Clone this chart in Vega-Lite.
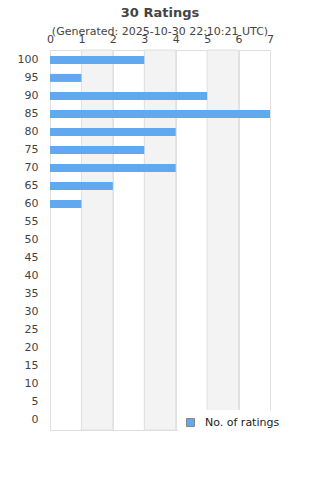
{
  "$schema": "https://vega.github.io/schema/vega-lite/v6.json",
  "autosize": "none",
  "padding": {"left": 50, "top": 50, "right": 50, "bottom": 50},
  "width": 220,
  "height": 380,
  "background": "white",
  "config": {
    "font": "DejaVu Sans",
    "view": {"stroke": "#dddddd"},
    "axisX": {
      "orient": "top",
      "title": null,
      "ticks": false,
      "domain": false,
      "values": [0, 1, 2, 3, 4, 5, 6, 7],
      "labelFontSize": 11,
      "labelColor": "#444444",
      "labelPadding": 6,
      "labelOverlap": false,
      "gridColor": "#e0e0e0",
      "labelFlush": false
    }
  },
  "title": {
    "text": "30 Ratings",
    "subtitle": "(Generated: 2025-10-30 22:10:21 UTC)",
    "fontSize": 13,
    "fontWeight": "bold",
    "color": "#444444",
    "subtitleFontSize": 11,
    "subtitleColor": "#444444",
    "subtitlePadding": 6,
    "anchor": "middle",
    "offset": -4
  },
  "datasets": {
    "bands": [
      {"from": 1, "to": 2},
      {"from": 3, "to": 4},
      {"from": 5, "to": 6}
    ],
    "ratings": [
      {"rating": "100", "count": 3},
      {"rating": "95", "count": 1},
      {"rating": "90", "count": 5},
      {"rating": "85", "count": 7},
      {"rating": "80", "count": 4},
      {"rating": "75", "count": 3},
      {"rating": "70", "count": 4},
      {"rating": "65", "count": 2},
      {"rating": "60", "count": 1},
      {"rating": "55", "count": 0},
      {"rating": "50", "count": 0},
      {"rating": "45", "count": 0},
      {"rating": "40", "count": 0},
      {"rating": "35", "count": 0},
      {"rating": "30", "count": 0},
      {"rating": "25", "count": 0},
      {"rating": "20", "count": 0},
      {"rating": "15", "count": 0},
      {"rating": "10", "count": 0},
      {"rating": "5", "count": 0},
      {"rating": "0", "count": 0}
    ]
  },
  "layer": [
    {
      "data": {"name": "bands"},
      "mark": {"type": "rect", "fill": "#f3f3f3", "stroke": "#e0e0e0", "strokeWidth": 1},
      "encoding": {
        "x": {"field": "from", "type": "quantitative", "scale": {"domain": [0, 7], "nice": false}, "axis": {"orient": "top", "values": [0, 1, 2, 3, 4, 5, 6, 7], "labelOverlap": false}},
        "x2": {"field": "to"}
      }
    },
    {
      "data": {"name": "ratings"},
      "mark": {"type": "bar", "size": 8},
      "encoding": {
        "y": {
          "field": "rating",
          "type": "ordinal",
          "sort": null,
          "scale": {"paddingInner": 0.5, "paddingOuter": 0.3},
          "axis": {
            "title": null,
            "ticks": false,
            "domain": false,
            "labelFontSize": 11,
            "labelColor": "#444444",
            "labelPadding": 12
          }
        },
        "x": {
          "field": "count",
          "type": "quantitative",
          "scale": {"domain": [0, 7], "nice": false},
          "axis": {"orient": "top", "values": [0, 1, 2, 3, 4, 5, 6, 7], "labelOverlap": false}
        },
        "color": {
          "datum": "No. of ratings",
          "type": "nominal",
          "scale": {"range": ["#60a8f0"]},
          "legend": {
            "title": null,
            "orient": "none",
            "legendX": 128,
            "legendY": 360,
            "fillColor": "white",
            "padding": 7,
            "symbolType": "square",
            "symbolSize": 64,
            "symbolStrokeColor": "#888888",
            "symbolStrokeWidth": 1,
            "labelFontSize": 11,
            "labelColor": "#222222",
            "labelOffset": 9
          }
        }
      }
    }
  ]
}
